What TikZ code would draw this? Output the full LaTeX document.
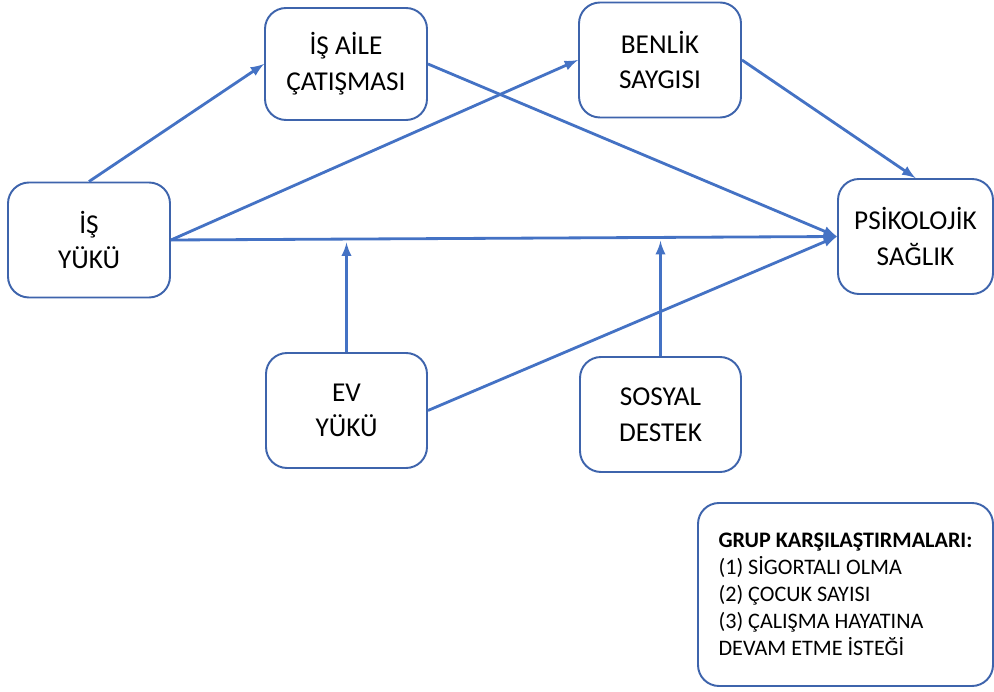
\documentclass[tikz,border=0pt]{standalone}
\usepackage{fontspec}
\setmainfont{Carlito}
\usepackage{tikz}
\usetikzlibrary{calc}
\definecolor{boxblue}{RGB}{62,100,172}
\definecolor{lineblue}{RGB}{68,114,196}

\begin{document}
\begin{tikzpicture}[
		kutu/.style={draw=boxblue, line width=1.1pt, rounded corners=0.42cm, align=center,
			minimum width=3.24cm, minimum height=2.3cm, inner sep=0pt,
			font=\fontsize{15.5}{20.3}\selectfont},
		ok/.style={draw=lineblue, line width=1.6pt, -latex}
	]
				\useasboundingbox (0,0) rectangle (19.88,13.82);
				
				\node[kutu] (isyuku) at (1.78,9.02) {İŞ\\YÜKÜ};
				\node[kutu, minimum height=2.24cm] (isaile) at (6.92,12.54) {İŞ AİLE\\ÇATIŞMASI};
				\node[kutu] (benlik) at (13.2,12.62) {BENLİK\\SAYGISI};
				\node[kutu, minimum width=3.1cm] (psiko) at (18.31,9.09) {PSİKOLOJİK\\SAĞLIK};
				\node[kutu, minimum width=3.22cm] (evyuku) at (6.93,5.61) {EV\\YÜKÜ};
				\node[kutu, minimum width=3.22cm] (sosyal) at (13.21,5.53) {SOSYAL\\DESTEK};
				\node[kutu, minimum width=5.9cm, minimum height=3.66cm, align=left,
					font=\fontsize{12.6}{15.4}\selectfont] (grup) at (16.91,1.93)
					{\textbf{GRUP KARŞILAŞTIRMALARI:}\\(1) SİGORTALI OLMA\\(2) ÇOCUK SAYISI\\(3) ÇALIŞMA HAYATINA\\DEVAM ETME İSTEĞİ};
				
				\coordinate (evuc) at ($(isyuku.east)!0.265!(psiko.west)$);
				\coordinate (sosuc) at ($(isyuku.east)!0.735!(psiko.west)$);
				
				\draw[ok] (isyuku.north) -- (isaile.west);
				\draw[ok] (isyuku.east) -- (benlik.west);
				\draw[ok] (isyuku.east) -- (psiko.west);
				\draw[ok] (isaile.east) -- (psiko.west);
				\draw[ok] (benlik.east) -- (psiko.north);
				\draw[ok] (evyuku.east) -- (psiko.west);
				\draw[ok, shorten >=2pt] (evyuku.north) -- (evyuku.north |- evuc);
				\draw[ok, shorten >=2pt] (sosyal.north) -- (sosyal.north |- sosuc);
			\end{tikzpicture}
\end{document}
